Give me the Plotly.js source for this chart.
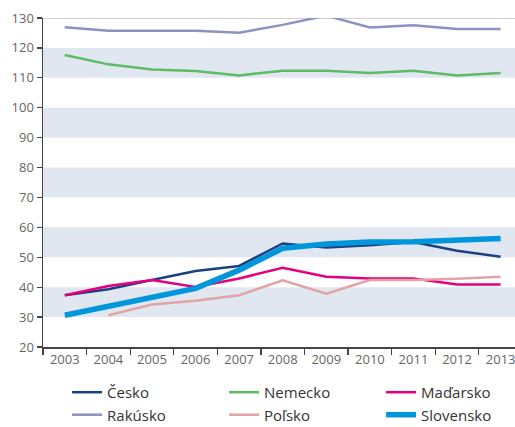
<!DOCTYPE html>
<html>
<head>
<meta charset="utf-8">
<script src="https://cdn.plot.ly/plotly-3.0.1.min.js"></script>
<style>html,body{margin:0;padding:0;background:#fff}#chart{width:515px;height:427px}</style>
</head>
<body>
<div id="chart"></div>
<script>
const years = ["2003","2004","2005","2006","2007","2008","2009","2010","2011","2012","2013"];
const cesko     = [37.3, 39.3, 42.4, 45.4, 47.1, 54.6, 53.3, 54.0, 55.1, 52.2, 50.2];
const nemecko   = [117.6, 114.5, 112.8, 112.3, 110.8, 112.4, 112.4, 111.6, 112.4, 110.8, 111.6];
const madarsko  = [37.3, 40.4, 42.4, 40.1, 42.9, 46.5, 43.5, 42.9, 42.9, 40.9, 40.9];
const rakusko   = [126.9, 125.7, 125.7, 125.7, 125.1, 127.7, 130.8, 126.8, 127.6, 126.3, 126.3];
const polsko    = [null, 30.6, 34.2, 35.5, 37.3, 42.3, 37.8, 42.4, 42.4, 42.8, 43.5];
const slovensko = [30.6, 33.7, 36.5, 39.6, 45.7, 53.0, 54.4, 55.1, 55.2, 55.8, 56.3];
const seriesNames = ["Česko","Nemecko","Maďarsko","Rakúsko","Poľsko","Slovensko"];
const bands = [[30,40],[50,60],[70,80],[90,100],[110,120]];
const yTicks = [20,30,40,50,60,70,80,90,100,110,120,130];

const colors = ["#1c3f83","#5dbb63","#e6007e","#8e91c2","#e2a3a6","#0096db"];
const widths = [2.5,2.5,2.5,2.5,2.5,5.5];
const values = [cesko,nemecko,madarsko,rakusko,polsko,slovensko];

const traces = values.map((v,i)=>({
  x: years, y: v, name: seriesNames[i], type:"scatter", mode:"lines",
  line:{color:colors[i], width:widths[i]}, hoverinfo:"skip"
}));

const shapes = bands.map(b=>({type:"rect", xref:"paper", yref:"y", x0:0, x1:1, y0:b[0], y1:b[1],
  fillcolor:"#e1e7f1", line:{width:0}, layer:"below"}));
shapes.push({type:"line", xref:"paper", yref:"y", x0:0, x1:1, y0:130, y1:130, line:{color:"#a6a6a6", width:1.2}, layer:"below"});

const layout = {
  width:515, height:427,
  margin:{l:43, r:0, t:18, b:80, pad:0, autoexpand:false},
  paper_bgcolor:"#fff", plot_bgcolor:"#fff",
  font:{family:"Open Sans, sans-serif", color:"#666"},
  showlegend:true,
  legend:{orientation:"h", x:0.051, xanchor:"left", y:-0.088, yanchor:"top",
    font:{size:15, color:"#333", family:"Open Sans, sans-serif"},
    entrywidth:112, entrywidthmode:"pixels", itemwidth:30, tracegroupgap:0, traceorder:"normal"},
  xaxis:{type:"category", range:[-0.5, 10.33], tickson:"boundaries", ticks:"outside", ticklen:6,
    tickcolor:"#444", tickwidth:1.2, showline:true, linecolor:"#444", linewidth:1.5,
    showgrid:false, zeroline:false, tickfont:{size:13, color:"#666"}, fixedrange:true},
  yaxis:{range:[20,130], tickvals:yTicks, ticks:"outside", ticklen:5, tickcolor:"#444", tickwidth:1.2,
    showline:true, linecolor:"#444", linewidth:1.5, showgrid:false, zeroline:false,
    tickfont:{size:13, color:"#666"}, fixedrange:true},
  shapes: shapes
};

Plotly.newPlot("chart", traces, layout, {displayModeBar:false, staticPlot:true});
</script>
</body>
</html>
